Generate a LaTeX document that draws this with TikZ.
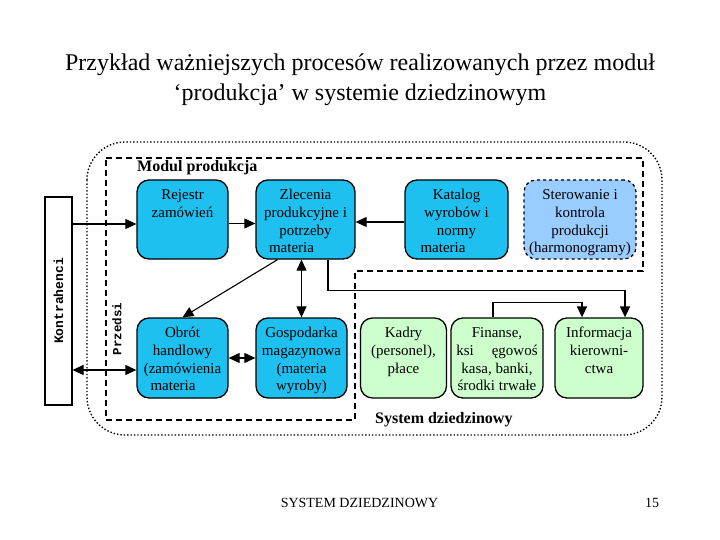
\documentclass[tikz,border=0pt]{standalone}
\usepackage{fontspec}
\usepackage{graphicx}
\setmainfont{Liberation Serif}
\newfontfamily\monob{Liberation Mono}
\usetikzlibrary{arrows.meta}
\definecolor{cyanbox}{RGB}{30,192,240}
\definecolor{bluebox}{RGB}{153,204,255}
\definecolor{greenbox}{RGB}{204,255,204}
\newcommand\boxtext[3]{\parbox[c][#2][t]{#1}{\centering\fontsize{15}{17.8}\selectfont\vspace*{7pt}\strut #3\par}}
\tikzset{
  procbox/.style={draw, line width=1.3pt, rounded corners=12pt, inner sep=0pt},
  cb/.style={procbox, fill=cyanbox},
  bb/.style={procbox, fill=bluebox, dashed},
  gb/.style={procbox, fill=greenbox},
  conn/.style={line width=1.1pt, -{Triangle[length=11pt,width=10pt]}},
  bidi/.style={line width=1.1pt, {Triangle[length=11pt,width=10pt]}-{Triangle[length=11pt,width=10pt]}},
  heading/.style={anchor=base west, inner sep=0pt, font=\bfseries\fontsize{16}{18}\selectfont}
}
\begin{document}
\begin{tikzpicture}[x=1pt,y=-1pt]
\useasboundingbox (0,0) rectangle (720,540);
% title
\node[align=center, font=\fontsize{24}{30}\selectfont] (title) at (360,80)
  {Przykład ważniejszych procesów realizowanych przez moduł\\‘produkcja’ w systemie dziedzinowym};
% frames
\draw[line width=1.4pt, dotted, rounded corners=38pt] (87,142) rectangle (662,435);
\draw[line width=1.3pt, dash pattern=on 6pt off 4pt] (106,158) -- (643,158) -- (643,271) -- (355,271) -- (355,420) -- (106,420) -- cycle;
\node[heading] (modl) at (137,172) {Modul produkcja};
\node[heading] (sysl) at (375,423) {System dziedzinowy};
% Kontrahenci
\node[draw, line width=1.1pt, fill=white, minimum width=27pt, minimum height=208pt, inner sep=0pt] (kon) at (58.5,301)
  {\rotatebox{90}{\monob\bfseries\fontsize{13}{13}\selectfont Kontrahenci}};
\node[inner sep=0pt] (prz) at (117,329) {\rotatebox{90}{\monob\bfseries\fontsize{12.5}{13}\selectfont Przedsi}};
% top row
\node[cb] (rej) at (182.5,219.5) {\boxtext{91pt}{79pt}{Rejestr\\zamówień}};
\node[cb] (zle) at (305.5,219.5) {\boxtext{99pt}{79pt}{Zlecenia\\produkcyjne i\\potrzeby\\materia\hspace*{28pt}}};
\node[cb] (kat) at (456.5,219.5) {\boxtext{103pt}{79pt}{Katalog\\wyrobów i\\normy\\materia\hspace*{27pt}}};
\node[bb] (ster) at (580,219.5) {\boxtext{112pt}{79pt}{Sterowanie i\\kontrola\\produkcji\\(harmonogramy)}};
% bottom row
\node[cb] (obr) at (182.5,358) {\boxtext{91pt}{80pt}{Obrót\\handlowy\\(zamówienia\\materia\hspace*{19pt}}};
\node[cb] (gos) at (301.5,358) {\boxtext{91pt}{80pt}{Gospodarka\\magazynowa\\(materia\hspace*{15pt}\\wyroby)}};
\node[gb] (kad) at (403.5,358) {\boxtext{86pt}{80pt}{Kadry\\(personel),\\płace}};
\node[gb] (fin) at (497,358) {\boxtext{92pt}{80pt}{Finanse,\\ksi\hspace{1.2em}ęgowoś\\kasa, banki,\\środki trwałe}};
\node[gb] (inf) at (599,358) {\boxtext{88pt}{80pt}{Informacja\\kierowni-\\ctwa}};
% footer
\node[font=\fontsize{14}{16}\selectfont] (foot) at (359.5,503) {SYSTEM DZIEDZINOWY};
\node[font=\fontsize{14}{16}\selectfont] (pg) at (652,503) {15};
% connectors
\draw[conn] (kon.east |- 0,224) -- (rej.west |- 0,224);
\draw[conn] ([yshift=-4pt]rej.east) -- ([yshift=-4pt]zle.west);
\draw[conn] ([yshift=-2.5pt]kat.west) -- ([yshift=-2.5pt]zle.east);
\draw[conn] ([xshift=-28pt]zle.south) -- (obr.north);
\draw[bidi] (gos.north |- zle.south) -- (gos.north);
\draw[conn, line width=1.4pt] ([xshift=22.5pt]zle.south) -- ++(0,31) -| ([xshift=26pt]inf.north);
\draw[conn, line width=1.4pt] ([xshift=-4pt]fin.north) -- ++(0,-15) -| ([xshift=-17pt]inf.north);
\draw[bidi] (obr.east) -- (gos.west);
\draw[bidi] (kon.east |- 0,370) -- (obr.west |- 0,370);
\end{tikzpicture}
\end{document}
